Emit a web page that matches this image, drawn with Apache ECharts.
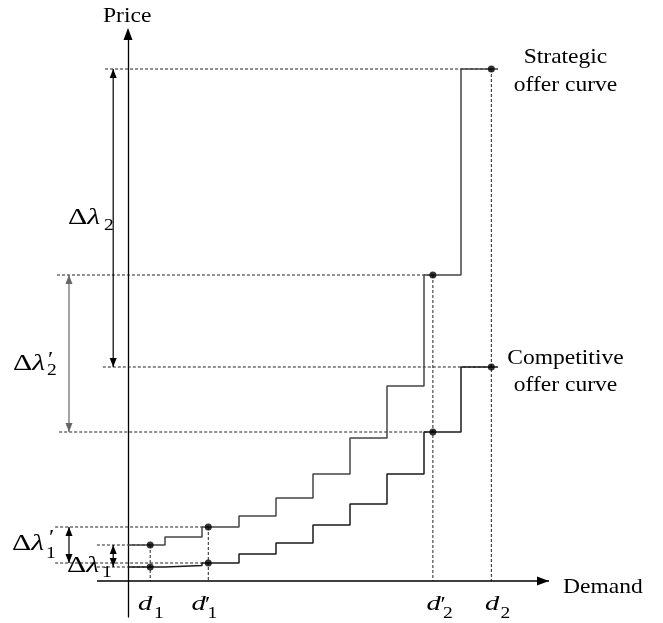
<!DOCTYPE html>
<html>
<head>
<meta charset="utf-8">
<script src="https://cdn.jsdelivr.net/npm/echarts@6/dist/echarts.min.js"></script>
<style>html,body{margin:0;padding:0;background:#fff}#c{width:663px;height:623px}</style>
</head>
<body>
<div id="c"></div>
<script>
// ---------------- DATA ----------------
// demand block edges of the stepwise offer curves
const stepEdges = [0, 1, 2, 3, 4, 5, 6, 7, 8, 9, 10];
// price level of each block
const strategicPrices   = [3.6, 4.4, 5.4, 6.5, 8.3, 10.7, 14.3, 19.5, 30.6, 51.2];
const competitivePrices = [1.4, 1.55, 1.8, 2.7, 3.8, 5.6, 7.7, 10.7, 14.9, 21.4];
// demand levels marked on the demand axis
const demandKeys   = ['d1', 'd1p', 'd2p', 'd2'];
const demandValues = [0.6, 2.17, 8.24, 9.82];
// price-gap annotations: [demand key, label]
const deltaPairs = [['d1', 'Δλ1'], ['d1p', "Δλ1'"], ['d2p', "Δλ2'"], ['d2', 'Δλ2']];
// demand axis drawn extent
const demandAxisRange = [-31 / 37, 421 / 37];

// ---------------- HELPERS ----------------
function stepPoints(edges, levels) {
  const pts = [];
  levels.forEach((p, i) => { pts.push([edges[i], p]); pts.push([edges[i + 1], p]); });
  return pts;
}
function priceAt(levels, d) {
  for (let i = 0; i < levels.length; i++) {
    if (d >= stepEdges[i] && d < stepEdges[i + 1]) return levels[i];
  }
  return levels[levels.length - 1];
}
const dVal = k => demandValues[demandKeys.indexOf(k)];

// annotation layout (not data): where dashed guides start and where gap arrows sit
const guideStartX = { d1: [-0.84, -0.84], d1p: [-1.97, -1.97], d2p: [-1.92, -1.86], d2: [-0.62, -0.68] };
const arrowX = { d1: -0.4, d1p: -1.595, d2p: -1.595, d2: -0.4 };
const arrowColor = { d1: '#000', d1p: '#000', d2p: '#666', d2: '#000' };

// ---------------- BUILD ----------------
const series = [];
// demand axis line with arrow
series.push({
  type: 'line', silent: true, z: 6, showSymbol: true, showAllSymbol: true,
  lineStyle: { color: '#000', width: 1.3 }, itemStyle: { color: '#000' },
  symbol: 'none',
  data: [
    { value: [demandAxisRange[0], 0], symbol: 'none' },
    { value: [demandAxisRange[1], 0], symbol: 'triangle', symbolSize: [9, 12], symbolRotate: -90, symbolOffset: [-6, 0] }
  ]
});
series.push({
  name: 'Strategic offer curve', type: 'line', data: stepPoints(stepEdges, strategicPrices),
  showSymbol: false, silent: true, z: 3,
  lineStyle: { color: '#444', width: 1.5 }
});
series.push({
  name: 'Competitive offer curve', type: 'line', data: stepPoints(stepEdges, competitivePrices),
  showSymbol: false, silent: true, z: 3,
  lineStyle: { color: '#1a1a1a', width: 1.5 }
});

function guide(a, b) {
  series.push({
    type: 'line', data: [a, b], showSymbol: false, silent: true, z: 2,
    lineStyle: { color: '#222', width: 1, type: [3, 2] }
  });
}
const dots = [];
demandKeys.forEach((k, i) => {
  const d = demandValues[i];
  const ps = priceAt(strategicPrices, d);
  const pc = priceAt(competitivePrices, d);
  dots.push([d, ps], [d, pc]);
  guide([guideStartX[k][0], ps], [d, ps]);
  guide([guideStartX[k][1], pc], [d, pc]);
  guide([d, ps], [d, 0]);
});
deltaPairs.forEach(([k]) => {
  const d = dVal(k);
  const c = arrowColor[k];
  series.push({
    type: 'line', silent: true, z: 4, showSymbol: true, showAllSymbol: true,
    symbol: 'triangle', symbolSize: [7, 9],
    lineStyle: { color: c, width: 1.2 }, itemStyle: { color: c },
    data: [
      { value: [arrowX[k], priceAt(strategicPrices, d)], symbolRotate: 0, symbolOffset: [0, 4.5] },
      { value: [arrowX[k], priceAt(competitivePrices, d)], symbolRotate: 180, symbolOffset: [0, -4.5] }
    ]
  });
});
series.push({
  type: 'scatter', data: dots, symbol: 'circle', symbolSize: 7, silent: true, z: 5,
  itemStyle: { color: '#000' }
});

const FONT = '"Liberation Serif", "Times New Roman", serif';
function T(x, y, text, size, o) {
  o = o || {};
  const al = o.align || 'left';
  return {
    type: 'text', x: x, y: y, scaleX: o.sx || 1.12, silent: true, z: 100,
    style: {
      text: text, fill: '#000', fontFamily: FONT, fontSize: size,
      fontStyle: o.italic ? 'italic' : 'normal',
      align: al, verticalAlign: 'middle', textAlign: al, textVerticalAlign: 'middle'
    }
  };
}
function DL(x, y) {
  return {
    type: 'text', x: x, y: y, scaleX: 1.3, silent: true, z: 100,
    style: {
      text: '{a|Δ}{b|λ}', align: 'left', verticalAlign: 'middle',
      rich: {
        a: { fontFamily: FONT, fontSize: 23, fill: '#000', color: '#000' },
        b: { fontFamily: FONT, fontSize: 23, fontStyle: 'italic', fill: '#000', color: '#000' }
      }
    }
  };
}
const PRIME = '\u2032';
const texts = [
  T(103, 16, 'Price', 21),
  T(563, 587, 'Demand', 21),
  T(565.5, 57.5, 'Strategic', 21, { align: 'center' }),
  T(565.5, 85, 'offer curve', 21, { align: 'center' }),
  T(565.5, 358, 'Competitive', 21, { align: 'center' }),
  T(565.5, 385.5, 'offer curve', 21, { align: 'center' }),
  // Δλ2
  DL(68, 217.5), T(104, 226, '2', 17, { sx: 1.15 }),
  // Δλ2'
  DL(13, 363.5), T(48, 360, PRIME, 22, { sx: 1.1 }), T(47, 371, '2', 17, { sx: 1.15 }),
  // Δλ1'
  DL(12, 544), T(49, 538, PRIME, 22, { sx: 1.1 }), T(46, 553.5, '1', 17, { sx: 1.15 }),
  // Δλ1
  DL(67, 566), T(102, 573, '1', 17, { sx: 1.15 }),
  // demand labels
  T(138, 604.5, 'd', 22, { italic: true, sx: 1.3 }), T(154, 613.5, '1', 17, { sx: 1.15 }),
  T(191.5, 604.5, 'd', 22, { italic: true, sx: 1.3 }), T(205, 605, PRIME, 22, { sx: 1.1 }), T(207.5, 613.5, '1', 17, { sx: 1.15 }),
  T(426.5, 604.5, 'd', 22, { italic: true, sx: 1.3 }), T(440.5, 605, PRIME, 22, { sx: 1.1 }), T(443, 613.5, '2', 17, { sx: 1.15 }),
  T(485, 604.5, 'd', 22, { italic: true, sx: 1.3 }), T(500.5, 613.5, '2', 17, { sx: 1.15 })
];

const chart = echarts.init(document.getElementById('c'), null, { renderer: 'canvas' });
chart.setOption({
  animation: false,
  backgroundColor: '#fff',
  grid: { left: 40, right: 110, top: 34, bottom: 6, containLabel: false, outerBoundsMode: 'none' },
  xAxis: {
    type: 'value', min: -88 / 37, max: 425 / 37,
    axisLine: { show: false, onZero: true },
    axisTick: { show: false }, axisLabel: { show: false }, splitLine: { show: false }
  },
  yAxis: {
    type: 'value', min: -3.6, max: 54.7,
    axisLine: { show: true, onZero: true, symbol: ['none', 'triangle'], symbolSize: [9, 12], lineStyle: { color: '#000', width: 1.3 } },
    axisTick: { show: false }, axisLabel: { show: false }, splitLine: { show: false }
  },
  series: series,
  graphic: texts
});
</script>
</body>
</html>
